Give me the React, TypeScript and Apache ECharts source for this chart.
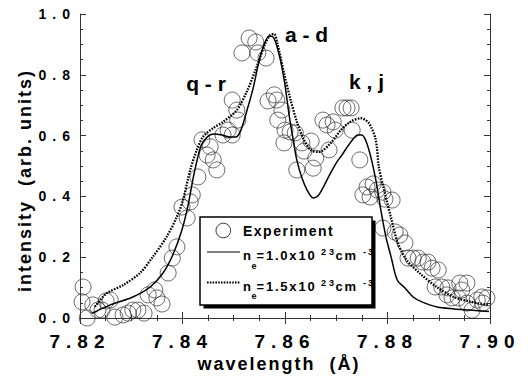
import { useEffect, useRef } from "react";
import * as echarts from "echarts";

// Measured spectrum: wavelength (Å) and normalised intensity
const expWavelength = [
  7.8204, 7.8206, 7.8214, 7.8225, 7.8235, 7.8243, 7.8251, 7.8259, 7.8268, 7.8284,
  7.8294, 7.8303, 7.8313, 7.8325, 7.8333, 7.8346, 7.835, 7.836, 7.8372, 7.838,
  7.8389, 7.8399, 7.8409, 7.8415, 7.8419, 7.843, 7.8438, 7.8448, 7.8454, 7.846,
  7.8467, 7.8479, 7.8489, 7.8497, 7.8497, 7.8506, 7.8508, 7.8516, 7.853, 7.8543,
  7.8547, 7.8563, 7.8567, 7.8579, 7.8584, 7.8586, 7.8594, 7.86, 7.8598, 7.861,
  7.862, 7.8623, 7.8633, 7.8637, 7.8651, 7.8655, 7.866, 7.8674, 7.8682, 7.8686,
  7.8694, 7.8698, 7.8713, 7.8721, 7.8729, 7.8731, 7.8746, 7.8752, 7.876, 7.8766,
  7.8772, 7.878, 7.8791, 7.8795, 7.8809, 7.8791, 7.8815, 7.8824, 7.8834, 7.884,
  7.885, 7.886, 7.8869, 7.8879, 7.8887, 7.8899, 7.8893, 7.8906, 7.8918, 7.8916,
  7.8926, 7.8938, 7.8941, 7.8955, 7.8945, 7.8955, 7.8965, 7.8975, 7.8984, 7.8994,
  7.8986,
];
const expIntensity = [
  0.053, 0.102, 0.0, 0.043, 0.026, 0.026, 0.056, 0.059, 0.003, 0.01,
  0.016, 0.026, 0.026, 0.016, 0.076, 0.092, 0.066, 0.046, 0.148, 0.197,
  0.234, 0.365, 0.329, 0.382, 0.405, 0.464, 0.586, 0.536, 0.563, 0.52,
  0.487, 0.602, 0.618, 0.602, 0.717, 0.684, 0.651, 0.872, 0.921, 0.908,
  0.872, 0.855, 0.714, 0.734, 0.717, 0.651, 0.684, 0.618, 0.576, 0.612,
  0.609, 0.487, 0.576, 0.549, 0.582, 0.493, 0.526, 0.651, 0.635, 0.553,
  0.645, 0.618, 0.691, 0.691, 0.691, 0.618, 0.52, 0.405, 0.431, 0.398,
  0.441, 0.421, 0.414, 0.391, 0.388, 0.296, 0.283, 0.273, 0.247, 0.197,
  0.197, 0.197, 0.184, 0.184, 0.164, 0.158, 0.102, 0.102, 0.099, 0.076,
  0.066, 0.066, 0.115, 0.115, 0.092, 0.049, 0.026, 0.059, 0.069, 0.066,
  0.049,
];

// Simulated profile, n_e = 1.0e23 cm^-3
const fit1Wavelength = [
  7.8223, 7.8259, 7.8303, 7.8337, 7.8362, 7.8381, 7.8399, 7.8411, 7.8422, 7.8436,
  7.8448, 7.846, 7.8477, 7.8493, 7.8504, 7.8514, 7.8526, 7.8538, 7.8549, 7.8559,
  7.8569, 7.8577, 7.8584, 7.8592, 7.86, 7.8608, 7.8616, 7.8623, 7.8633, 7.8643,
  7.8655, 7.8664, 7.8674, 7.8688, 7.8701, 7.8711, 7.8723, 7.8733, 7.8742, 7.875,
  7.8758, 7.8768, 7.8778, 7.8787, 7.8797, 7.8807, 7.8819, 7.8834, 7.885, 7.8867,
  7.8897, 7.893, 7.8961, 7.8998,
];
const fit1Intensity = [
  0.015, 0.043, 0.069, 0.102, 0.148, 0.207, 0.29, 0.372, 0.47, 0.566,
  0.595, 0.605, 0.602, 0.595, 0.595, 0.618, 0.684, 0.757, 0.842, 0.898,
  0.928, 0.924, 0.895, 0.842, 0.766, 0.668, 0.586, 0.52, 0.461, 0.421,
  0.395, 0.401, 0.428, 0.474, 0.513, 0.536, 0.566, 0.589, 0.602, 0.602,
  0.582, 0.526, 0.447, 0.355, 0.266, 0.201, 0.125, 0.099, 0.069, 0.053,
  0.036, 0.03, 0.026, 0.021,
];

// Simulated profile, n_e = 1.5e23 cm^-3
const fit2Wavelength = [
  7.8229, 7.8252, 7.8284, 7.8317, 7.8342, 7.8369, 7.8389, 7.8401, 7.8415, 7.8428,
  7.844, 7.846, 7.8479, 7.8506, 7.8525, 7.8545, 7.8561, 7.8571, 7.8579, 7.8585,
  7.8598, 7.8611, 7.8624, 7.8637, 7.865, 7.8666, 7.8689, 7.8709, 7.8728, 7.8748,
  7.8764, 7.8777, 7.8783, 7.8791, 7.8808, 7.882, 7.8837, 7.8863, 7.8896, 7.8928,
  7.8961, 7.8998,
];
const fit2Intensity = [
  0.037, 0.081, 0.108, 0.148, 0.201, 0.267, 0.333, 0.388, 0.487, 0.553,
  0.596, 0.625, 0.645, 0.684, 0.743, 0.827, 0.901, 0.931, 0.934, 0.904,
  0.806, 0.717, 0.641, 0.586, 0.553, 0.546, 0.575, 0.618, 0.646, 0.657,
  0.64, 0.586, 0.498, 0.437, 0.322, 0.247, 0.191, 0.147, 0.102, 0.07,
  0.054, 0.043,
];

// Line-group annotations
const peakLabels = ["q - r", "a - d", "k , j"];

const FONT = '"Liberation Sans", Arial, sans-serif';

// Extra tracking for the wide, typewriter-like lettering
const TRACKING: Array<[RegExp, number]> = [
  [/^7\.\d\d$/, 6],
  [/^[01]\.\d$/, 6],
  [/^wavelength/, 2],
  [/^intensity/, 2],
  [/^Experiment$/, 1.5],
  [/^=1\.\dx10$/, 1.8],
  [/^cm$/, 1.8],
  [/^23$/, 3],
  [/^-3$/, 2],
];

function applyTracking(root: HTMLElement) {
  root.querySelectorAll("text").forEach((t) => {
    const s = (t.textContent || "").trim();
    for (const [re, px] of TRACKING) {
      if (re.test(s)) {
        (t as SVGTextElement).style.letterSpacing = px + "px";
        break;
      }
    }
  });
}

function zip(xs: number[], ys: number[]) {
  return xs.map((x, i) => [x, ys[i]]);
}

function txt(
  text: string,
  x: number,
  y: number,
  size: number,
  align: "left" | "center" | "right" = "left",
  extra: Record<string, unknown> = {}
) {
  return {
    type: "text",
    x,
    y,
    z: 100,
    ...extra,
    style: {
      text,
      fill: "#000",
      font: `bold ${size}px ${FONT}`,
      align,
      verticalAlign: "middle",
    },
  };
}

function densityRow(value: string, dy: number, dotted: boolean) {
  return [
    {
      type: "line",
      z: 100,
      shape: { x1: 207, y1: 252 + dy, x2: 240, y2: 252 + dy },
      style: dotted
        ? { stroke: "#000", lineWidth: 2.2, lineDash: [1.6, 1.2] }
        : { stroke: "#000", lineWidth: 1.2 },
    },
    txt("n", 243, 255.5 + dy, 13),
    txt("e", 251.5, 265.5 + dy, 9),
    txt(`=${value}x10`, 256.5, 255.5 + dy, 13),
    txt("23", 321, 252 + dy, 9),
    txt("cm", 335.5, 255.5 + dy, 13),
    txt("-3", 363, 252 + dy, 9),
  ];
}

export default function App() {
  const ref = useRef<HTMLDivElement>(null);

  useEffect(() => {
    const el = ref.current;
    if (!el) return;
    const chart = echarts.init(el, undefined, { renderer: "svg" });
    chart.on("rendered", () => applyTracking(el));

    const axisLine = { show: true, lineStyle: { color: "#333", width: 1 } };
    const tick = { show: true, inside: true, length: 6, lineStyle: { color: "#333" } };
    const minor = { show: true, splitNumber: 4, length: 3, lineStyle: { color: "#333" } };

    chart.setOption({
      animation: false,
      backgroundColor: "#fff",
      grid: { left: 80, top: 14, width: 410, height: 304 },
      xAxis: [
        {
          type: "value",
          position: "bottom",
          min: 7.82,
          max: 7.9,
          interval: 0.02,
          axisLine,
          axisTick: tick,
          minorTick: minor,
          splitLine: { show: false },
          axisLabel: {
            margin: 14,
            fontFamily: FONT,
            fontWeight: "bold",
            fontSize: 19,
            color: "#000",
            formatter: (v: number) => v.toFixed(2),
          },
        },
        {
          type: "value",
          position: "top",
          min: 7.82,
          max: 7.9,
          interval: 0.02,
          axisLine,
          axisTick: tick,
          minorTick: minor,
          splitLine: { show: false },
          axisLabel: { show: false },
        },
      ],
      yAxis: [
        {
          type: "value",
          position: "left",
          min: 0,
          max: 1,
          interval: 0.2,
          axisLine,
          axisTick: tick,
          minorTick: minor,
          splitLine: { show: false },
          axisLabel: {
            margin: 4,
            fontFamily: FONT,
            fontWeight: "bold",
            fontSize: 14,
            color: "#000",
            formatter: (v: number) => v.toFixed(1),
          },
        },
        {
          type: "value",
          position: "right",
          min: 0,
          max: 1,
          interval: 0.2,
          axisLine,
          axisTick: tick,
          minorTick: minor,
          splitLine: { show: false },
          axisLabel: { show: false },
        },
      ],
      series: [
        {
          name: "Experiment",
          type: "scatter",
          symbol: "circle",
          symbolSize: 16,
          itemStyle: { color: "rgba(0,0,0,0)", borderColor: "#333", borderWidth: 0.9 },
          data: zip(expWavelength, expIntensity),
        },
        {
          name: "ne=1.0e23",
          type: "line",
          smooth: 0.3,
          showSymbol: false,
          lineStyle: { color: "#000", width: 1.5 },
          data: zip(fit1Wavelength, fit1Intensity),
        },
        {
          name: "ne=1.5e23",
          type: "line",
          smooth: 0.3,
          showSymbol: false,
          lineStyle: { color: "#000", width: 2.3, type: [1.6, 1.3], cap: "butt" },
          data: zip(fit2Wavelength, fit2Intensity),
        },
      ],
      graphic: [
        txt(peakLabels[0], 206, 83, 21, "center"),
        txt(peakLabels[1], 306.5, 34.5, 21, "center"),
        txt(peakLabels[2], 366.5, 81, 21, "center"),
        txt("wavelength  (Å)", 279, 363.5, 18, "center"),
        txt("intensity  (arb. units)", 25, 180.5, 18, "center", { rotation: Math.PI / 2 }),
        // legend box with drop shadow
        {
          type: "rect",
          z: 99,
          shape: { x: 203.5, y: 220.5, width: 172, height: 88 },
          style: { fill: "#000" },
        },
        {
          type: "rect",
          z: 99,
          shape: { x: 200, y: 217, width: 172, height: 88 },
          style: { fill: "#fff", stroke: "#000", lineWidth: 1.5 },
        },
        {
          type: "circle",
          z: 100,
          shape: { cx: 223.3, cy: 230.5, r: 7.3 },
          style: { fill: "none", stroke: "#333", lineWidth: 1 },
        },
        txt("Experiment", 243, 231, 14),
        ...densityRow("1.0", 0, false),
        ...densityRow("1.5", 30.5, true),
      ],
    });
    applyTracking(el);

    return () => chart.dispose();
  }, []);

  return (
    <div
      ref={ref}
      style={{ position: "fixed", left: 0, top: 0, width: 528, height: 380 }}
    />
  );
}
